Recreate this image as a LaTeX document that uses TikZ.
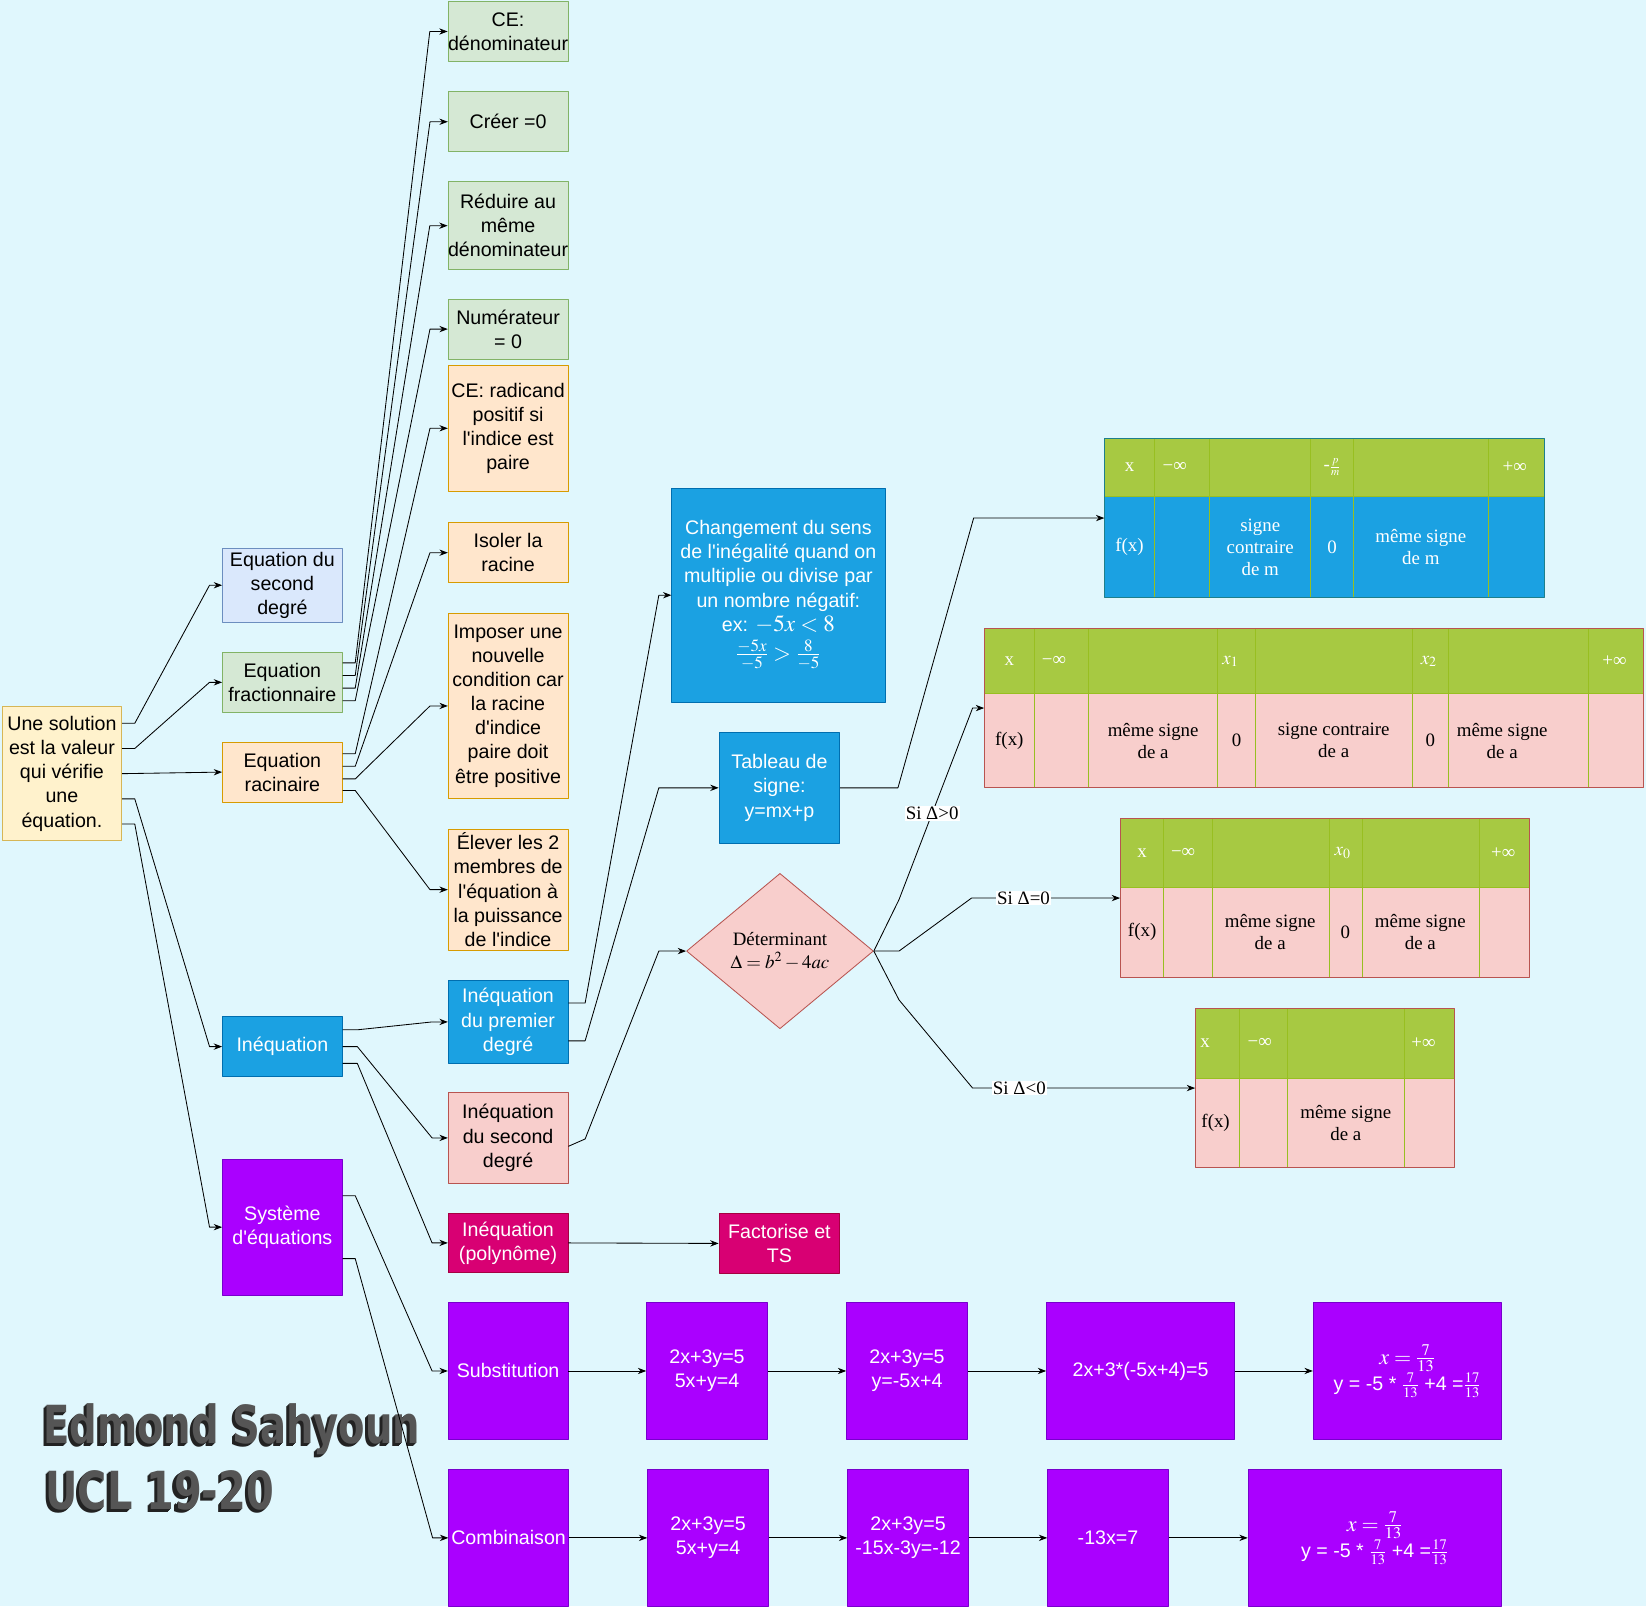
\RequirePackage{fix-cm}
\documentclass[tikz,border=0pt]{standalone}
\usepackage{mathptmx}
\usepackage{fontspec}
\setmainfont{Liberation Sans}[Ligatures=TeXOff]
\newfontfamily\tms{Liberation Serif}
\newfontfamily\logofont{DejaVu Sans}
\usetikzlibrary{shapes.geometric,arrows.meta}
\definecolor{bgc}{HTML}{E0F7FD}
\definecolor{yelF}{HTML}{FFF2CC}\definecolor{yelD}{HTML}{D6B656}
\definecolor{bluF}{HTML}{DAE8FC}\definecolor{bluD}{HTML}{6C8EBF}
\definecolor{grnF}{HTML}{D5E8D4}\definecolor{grnD}{HTML}{82B366}
\definecolor{orgF}{HTML}{FFE6CC}\definecolor{orgD}{HTML}{D79B00}
\definecolor{cyaF}{HTML}{1BA1E2}\definecolor{cyaD}{HTML}{006EAF}
\definecolor{pnkF}{HTML}{F8CECC}\definecolor{pnkD}{HTML}{B85450}
\definecolor{magF}{HTML}{D80073}\definecolor{magD}{HTML}{A50040}
\definecolor{vioF}{HTML}{AA00FF}\definecolor{vioD}{HTML}{7700CC}
\definecolor{hdrF}{HTML}{A7C942}\definecolor{hdrL}{HTML}{98BF21}
\definecolor{tabBord}{HTML}{1E7F8C}
\definecolor{logoF}{HTML}{555555}\definecolor{logoS}{HTML}{222222}
\tikzset{
  box/.style={draw, line width=0.8pt, inner sep=0pt, align=center},
  wd/.style 2 args={minimum width=#1pt, minimum height=#2pt},
  yel/.style={box, fill=yelF, draw=yelD},
  blu/.style={box, fill=bluF, draw=bluD},
  grn/.style={box, fill=grnF, draw=grnD},
  org/.style={box, fill=orgF, draw=orgD},
  cya/.style={box, fill=cyaF, draw=cyaD, text=white},
  pnk/.style={box, fill=pnkF, draw=pnkD},
  mag/.style={box, fill=magF, draw=magD, text=white},
  vio/.style={box, fill=vioF, draw=vioD, text=white},
  tbox/.style={draw, line width=1pt, inner sep=0pt},
  grd/.style={draw=hdrL, line width=0.8pt},
  cell/.style={inner sep=0pt, align=center, font=\tms\fontsize{18}{21}\selectfont},
  lbl/.style={fill=white, inner sep=1pt, font=\tms\fontsize{18}{21}\selectfont},
  logo/.style={inner sep=0pt, font=\logofont\bfseries\fontsize{50}{50}\selectfont},
  con/.style={->, line width=0.8pt}
}
\begin{document}
\begin{tikzpicture}[x=1pt,y=-1pt,>={Stealth[length=8pt,width=6pt]},line join=round,
  font=\fontsize{18.7}{23}\selectfont]
\fill[bgc] (0,0) rectangle (1568,1530);
\useasboundingbox (0,0) rectangle (1568,1530);
% equations
\node[yel, wd={114}{128}] (root) at (59,737) {Une solution\\est la valeur\\qui vérifie\\une\\équation.};
\node[blu, wd={114}{71}] (eqDeg) at (269,557.5) {Equation du\\second\\degré};
\node[grn, wd={114}{57}] (eqFrac) at (269,650) {Equation\\fractionnaire};
\node[org, wd={114}{57}] (eqRac) at (269,735.5) {Equation\\racinaire};
\node[cya, wd={114}{57}] (ineq) at (269,997) {Inéquation};
\node[vio, wd={114}{130}] (syst) at (269,1169) {Système\\d'équations};
% colonne 2
\node[grn, wd={114}{57}] (ceDen) at (484,30) {CE:\\dénominateur};
\node[grn, wd={114}{57}] (creer) at (484,116) {Créer =0};
\node[grn, wd={114}{83.5}] (reduire) at (484,215) {Réduire au\\même\\dénominateur};
\node[grn, wd={114}{57}] (numer) at (484,313.5) {Numérateur\\= 0};
\node[org, wd={114}{120.5}] (ceRad) at (484,408) {CE: radicand\\positif si\\l'indice est\\paire};
\node[org, wd={114}{57}] (isoler) at (484,526.5) {Isoler la\\racine};
\node[org, wd={114}{177}] (imposer) at (484,672.5) {Imposer une\\nouvelle\\condition car\\la racine\\d'indice\\paire doit\\être positive};
\node[org, wd={114}{115}] (elever) at (484,847.5) {Élever les 2\\membres de\\l'équation à\\la puissance\\de l'indice};
\node[cya, wd={114}{79}] (ineqA) at (484,973.5) {Inéquation\\du premier\\degré};
\node[pnk, wd={114}{86}] (ineqB) at (484,1084) {Inéquation\\du second\\degré};
\node[mag, wd={114}{57}] (ineqP) at (484,1184) {Inéquation\\(polynôme)};
\node[vio, wd={114}{130}] (subst) at (484,1306) {Substitution};
\node[vio, wd={114}{130}] (combi) at (484.5,1465) {Combinaison};
% colonne 3
\node[cya, wd={203}{204}] (chgt) at (741.5,567) {Changement du sens\\de l'inégalité quand on\\multiplie ou divise par\\un nombre négatif:\\ex: {\fontsize{22}{23}\selectfont$-5x<8$}\\[5pt]{\fontsize{22}{23}\selectfont$\frac{-5x}{-5}>\frac{8}{-5}$}};
\node[cya, wd={115}{105}] (tabSig) at (742.5,750.5) {Tableau de\\signe:\\y=mx+p};
\node[pnk, diamond, wd={178}{148}, font=\tms\fontsize{18}{22}\selectfont] (det) at (743,906) {Déterminant\\$\Delta=b^2-4ac$};
\node[mag, wd={115}{57}] (factor) at (742.5,1184.5) {Factorise et\\TS};
% systemes
\node[vio, wd={115}{130}] (subA) at (673.5,1306) {2x+3y=5\\5x+y=4};
\node[vio, wd={115}{130}] (subB) at (864,1306) {2x+3y=5\\y=-5x+4};
\node[vio, wd={179}{130}] (subC) at (1086.5,1306) {2x+3*(-5x+4)=5};
\node[vio, wd={179}{130}] (subD) at (1340.5,1306) {{\fontsize{21}{23}\selectfont$x=\frac{7}{13}$}\\y = -5 * $\frac{7}{13}$ +4 =$\frac{17}{13}$};
\node[vio, wd={115}{130}] (combA) at (674.5,1465) {2x+3y=5\\5x+y=4};
\node[vio, wd={115}{130}] (combB) at (865,1465) {2x+3y=5\\-15x-3y=-12};
\node[vio, wd={115}{130}] (combC) at (1055.5,1465) {-13x=7};
\node[vio, wd={241}{130}] (combD) at (1309.5,1465) {{\fontsize{21}{23}\selectfont$x=\frac{7}{13}$}\\y = -5 * $\frac{7}{13}$ +4 =$\frac{17}{13}$};
% signature
\foreach \k in {3,2,1} {
  \node[logo, text=logoS, anchor=base west] (logoA\k) at (41-\k,1375+\k) {\scalebox{0.735}[1]{Edmond Sahyoun}};
  \node[logo, text=logoS, anchor=base west] (logoB\k) at (43-\k,1438+\k) {\scalebox{0.76}[1]{UCL 19-20}};
}
\node[logo, text=logoF, anchor=base west] (logoA) at (41,1375) {\scalebox{0.735}[1]{Edmond Sahyoun}};
\node[logo, text=logoF, anchor=base west] (logoB) at (43,1438) {\scalebox{0.76}[1]{UCL 19-20}};
% tableau y=mx+p
\fill[hdrF] (1052.5,417.5) rectangle (1471,473);
\fill[cyaF] (1052.5,473) rectangle (1471,569.5);
\draw[grd] (1052.5,473) -- (1471,473);
\foreach \c in {1099.5,1152.5,1248.5,1289.5,1417.5} \draw[grd] (\c,417.5) -- (\c,569.5);
\node[tbox, draw=tabBord, wd={418.5}{152}] (tabA) at (1261.75,493.5) {};
\node[cell, text=white] (tA1) at (1076,445) {x};
\node[cell, text=white] (tA2) at (1119,445) {−∞};
\node[cell, text=white] (tA3) at (1269,445) {-$\scriptstyle\frac{p}{m}$};
\node[cell, text=white] (tA4) at (1443,445) {+∞};
\node[cell, text=white] (tA5) at (1076,521) {f(x)};
\node[cell, text=white] (tA6) at (1200.5,521) {signe\\contraire\\de m};
\node[cell, text=white] (tA7) at (1269,521) {0};
\node[cell, text=white] (tA8) at (1353.5,521) {même signe\\de m};
% tableau delta>0
\fill[hdrF] (938,599) rectangle (1566,661);
\fill[pnkF] (938,661) rectangle (1566,750);
\draw[grd] (938,661) -- (1566,661);
\foreach \c in {985,1037,1160,1196,1345,1380,1513} \draw[grd] (\c,599) -- (\c,750);
\node[tbox, draw=pnkD, wd={628}{151}] (tabB) at (1252,674.5) {};
\node[cell, text=white] (tB1) at (961.5,630) {x};
\node[cell, text=white] (tB2) at (1004,630) {−∞};
\node[cell, text=white] (tB3) at (1172,630) {$x_1$};
\node[cell, text=white] (tB4) at (1361,630) {$x_2$};
\node[cell, text=white] (tB5) at (1538,630) {+∞};
\node[cell] (tB6) at (961.5,705.5) {f(x)};
\node[cell] (tB7) at (1098.5,705.5) {même signe\\de a};
\node[cell] (tB8) at (1178,705.5) {0};
\node[cell] (tB9) at (1270.5,705.5) {signe contraire\\de a};
\node[cell] (tB10) at (1362.5,705.5) {0};
\node[cell] (tB11) at (1431,705.5) {même signe\\de a};
% tableau delta=0
\fill[hdrF] (1067.5,780) rectangle (1457,845);
\fill[pnkF] (1067.5,845) rectangle (1457,931);
\draw[grd] (1067.5,845) -- (1457,845);
\foreach \c in {1108.5,1154.5,1266,1297.5,1409} \draw[grd] (\c,780) -- (\c,931);
\node[tbox, draw=pnkD, wd={389.5}{151}] (tabC) at (1262.25,855.5) {};
\node[cell, text=white] (tC1) at (1088,812.5) {x};
\node[cell, text=white] (tC2) at (1127,812.5) {−∞};
\node[cell, text=white] (tC3) at (1279,812.5) {$x_0$};
\node[cell, text=white] (tC4) at (1432,812.5) {+∞};
\node[cell] (tC5) at (1088,888) {f(x)};
\node[cell] (tC6) at (1210,888) {même signe\\de a};
\node[cell] (tC7) at (1281.5,888) {0};
\node[cell] (tC8) at (1353,888) {même signe\\de a};
% tableau delta<0
\fill[hdrF] (1139,961) rectangle (1386,1027);
\fill[pnkF] (1139,1027) rectangle (1386,1112);
\draw[grd] (1139,1027) -- (1386,1027);
\foreach \c in {1180.5,1226,1338} \draw[grd] (\c,961) -- (\c,1112);
\node[tbox, draw=pnkD, wd={247}{151}] (tabD) at (1262.5,1036.5) {};
\node[cell, text=white] (tD1) at (1148,994) {x};
\node[cell, text=white] (tD2) at (1200,994) {−∞};
\node[cell, text=white] (tD3) at (1356,994) {+∞};
\node[cell] (tD4) at (1158,1069.5) {f(x)};
\node[cell] (tD5) at (1282,1069.5) {même signe\\de a};
% liaisons
\draw[con] ([yshift=48pt]root.east) -- ++(12,0) -- ([xshift=-12pt]eqDeg.west) -- (eqDeg.west);
\draw[con] ([yshift=24pt]root.east) -- ++(12,0) -- ([xshift=-12pt]eqFrac.west) -- (eqFrac.west);
\draw[con] (root.east) -- (eqRac.west);
\draw[con] ([yshift=-24pt]root.east) -- ++(12,0) -- ([xshift=-12pt]ineq.west) -- (ineq.west);
\draw[con] ([yshift=-48pt]root.east) -- ++(12,0) -- ([xshift=-12pt]syst.west) -- (syst.west);
\foreach \s/\t in {18.5/ceDen,6.5/creer,-5.5/reduire,-17.5/numer}
  \draw[con] ([yshift=\s pt]eqFrac.east) -- ++(12,0) -- ([xshift=-17pt]\t.west) -- (\t.west);
\foreach \s/\t in {17.5/ceRad,5.5/isoler,-6.5/imposer,-17.5/elever}
  \draw[con] ([yshift=\s pt]eqRac.east) -- ++(12,0) -- ([xshift=-17pt]\t.west) -- (\t.west);
\foreach \s/\t in {16/ineqA,0/ineqB,-16/ineqP}
  \draw[con] ([yshift=\s pt]ineq.east) -- ++(14,0) -- ([xshift=-15pt]\t.west) -- (\t.west);
\draw[con] ([yshift=18pt]ineqA.east) -- ++(16,0) -- ([xshift=-12pt]chgt.west) -- (chgt.west);
\draw[con] ([yshift=-18pt]ineqA.east) -- ++(16,0) -- ([xshift=-57pt]tabSig.west) -- (tabSig.west);
\draw[con] ([yshift=-8pt]ineqB.east) -- ++(16,-7) -- ([xshift=-26pt]det.west) -- (det.west);
\draw[con] (ineqP.east) -- (factor.west);
\draw[con] ([yshift=30pt]syst.east) -- ++(12,0) -- ([xshift=-15pt]subst.west) -- (subst.west);
\draw[con] ([yshift=-30pt]syst.east) -- ++(12,0) -- ([xshift=-15pt]combi.west) -- (combi.west);
\foreach \a/\b in {subst/subA,subA/subB,subB/subC,subC/subD,combi/combA,combA/combB,combB/combC,combC/combD}
  \draw[con] (\a.east) -- (\b.west);
\draw[con] (tabSig.east) -- ++(55,0) -- ([xshift=-124.5pt]tabA.west) -- (tabA.west);
\draw[con] (det.east) -- ++(24,-49) -- node[lbl,pos=0.45] (siPos) {Si Δ>0} ([xshift=-11pt]tabB.west) -- (tabB.west);
\draw[con] (det.east) -- ++(24,0) -- ([xshift=-141.5pt]tabC.west) -- node[lbl,pos=0.35] (siNul) {Si Δ=0} (tabC.west);
\draw[con] (det.east) -- ++(24,46.5) -- ([xshift=-212pt]tabD.west) -- node[lbl,pos=0.21] (siNeg) {Si Δ<0} (tabD.west);
\end{tikzpicture}
\end{document}
